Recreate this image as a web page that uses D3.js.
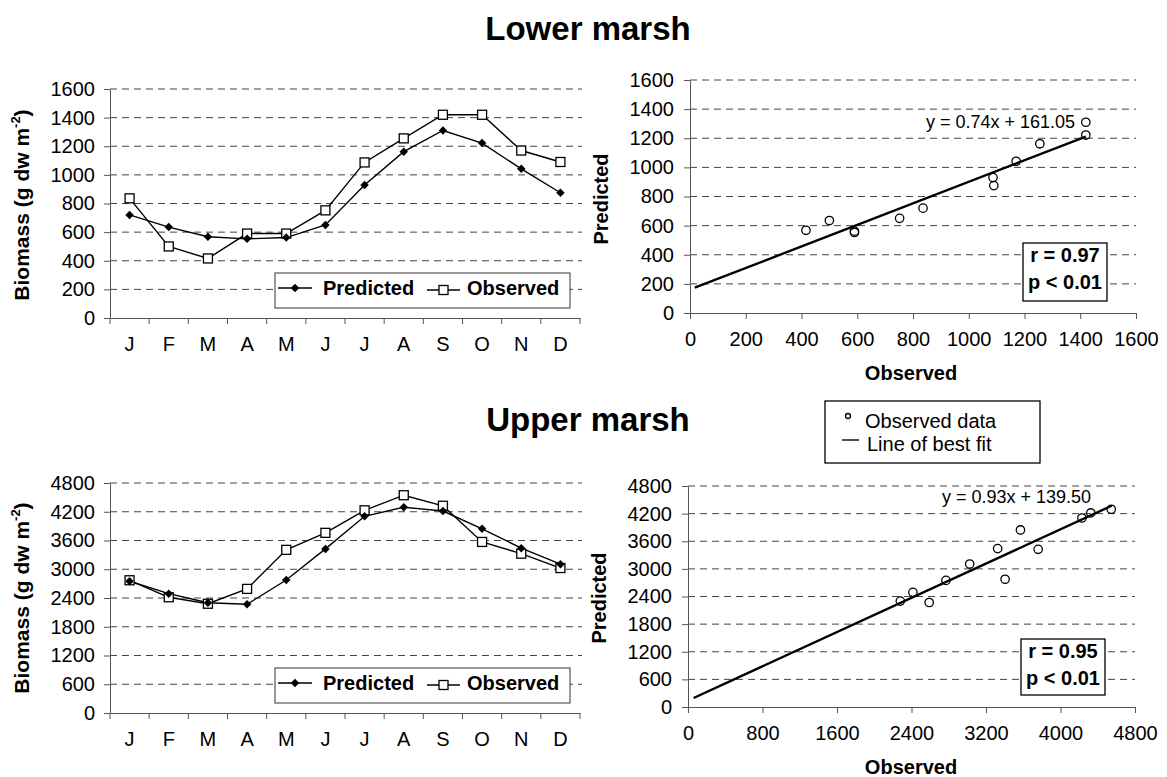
<!DOCTYPE html>
<html>
<head>
<meta charset="utf-8">
<script src="https://cdn.jsdelivr.net/npm/d3@7"></script>
<style>
  body { margin: 0; background: #fff; }
  text { font-family: "Liberation Sans", Arial, sans-serif; fill: #000; }
  .grid line { stroke: #444; stroke-width: 1; stroke-dasharray: 7,5; }
  .axis path, .axis line { stroke: #555; stroke-width: 1; }
</style>
</head>
<body>
<div id="chart-area"></div>
<script>
// month labels (J F M ...)
var months = ["J","F","M","A","M","J","J","A","S","O","N","D"];

// Lower marsh, g dw m-2
var lowerPred = [720, 635, 568, 553, 562, 650, 930, 1162, 1310, 1222, 1042, 875];
var lowerObs  = [836, 500, 416, 590, 590, 752, 1087, 1255, 1420, 1420, 1170, 1090];
var lowerTicks = [0, 200, 400, 600, 800, 1000, 1200, 1400, 1600];
var lowerFit = [0.74, 161.05];        // slope, intercept
var lowerFitRange = [17, 1420];
var lowerStats = ["r = 0.97", "p < 0.01"];

// Upper marsh
var upperPred = [2750, 2490, 2300, 2270, 2775, 3425, 4105, 4295, 4215, 3845, 3440, 3105];
var upperObs  = [2770, 2415, 2280, 2590, 3405, 3760, 4230, 4545, 4325, 3570, 3325, 3025];
var upperTicks = [0, 600, 1200, 1800, 2400, 3000, 3600, 4200, 4800];
var upperXTicks = [0, 800, 1600, 2400, 3200, 4000, 4800];
var upperFit = [0.93, 139.50];
var upperFitRange = [60, 4550];
var upperStats = ["r = 0.95", "p < 0.01"];

var svg = d3.select("#chart-area").append("svg")
  .attr("width", 1167)
  .attr("height", 777);

var fmt = d3.format("d");

// titles
svg.append("text").attr("x", 588).attr("y", 40)
  .attr("text-anchor", "middle").attr("font-size", "33px").attr("font-weight", "bold")
  .text("Lower marsh");
svg.append("text").attr("x", 588).attr("y", 431)
  .attr("text-anchor", "middle").attr("font-size", "33px").attr("font-weight", "bold")
  .text("Upper marsh");

function yGrid(g, y, ticks, x0, x1) {
  g.append("g").attr("class", "grid")
    .selectAll("line").data(ticks.slice(1)).enter()
    .append("line")
    .attr("x1", x0).attr("x2", x1)
    .attr("y1", function(d){ return y(d); })
    .attr("y2", function(d){ return y(d); });
}

function lineChart(p, pred, obs, ticks) {
  var x = d3.scaleBand().domain(d3.range(months.length)).range([p.x0, p.x1]);
  var y = d3.scaleLinear().domain([0, ticks[ticks.length - 1]]).range([p.y1, p.y0]);
  var g = svg.append("g");

  yGrid(g, y, ticks, p.x0, p.x1 + 2);

  g.append("g").attr("class", "axis")
    .attr("transform", "translate(" + p.x0 + ",0)")
    .call(d3.axisLeft(y).tickValues(ticks).tickFormat(fmt).tickSize(6).tickPadding(9).tickSizeOuter(0))
    .selectAll("text").attr("font-size", "20px").style("font-family", "Liberation Sans, Arial");

  var xa = g.append("g").attr("class", "axis")
    .attr("transform", "translate(0," + p.y1 + ")")
    .call(d3.axisBottom(x).tickSize(0).tickPadding(19).tickFormat(function(i){ return months[i]; }));
  xa.selectAll("text").attr("font-size", "20px").style("font-family", "Liberation Sans, Arial");
  // boundary ticks between months
  xa.selectAll(".bnd").data(d3.range(months.length + 1)).enter()
    .append("line").attr("class", "bnd")
    .attr("x1", function(i){ return i < months.length ? x(i) : p.x1; })
    .attr("x2", function(i){ return i < months.length ? x(i) : p.x1; })
    .attr("y1", 0).attr("y2", 6);

  var cx = function(d, i){ return x(i) + x.bandwidth() / 2; };
  var line = d3.line().x(cx).y(function(d){ return y(d); });

  g.append("path").datum(obs).attr("d", line)
    .attr("fill", "none").attr("stroke", "#000").attr("stroke-width", 1.4);
  g.append("path").datum(pred).attr("d", line)
    .attr("fill", "none").attr("stroke", "#000").attr("stroke-width", 1.4);

  g.selectAll(".sq").data(obs).enter().append("rect").attr("class", "sq")
    .attr("x", function(d, i){ return cx(d, i) - 4.5; })
    .attr("y", function(d){ return y(d) - 4.5; })
    .attr("width", 9).attr("height", 9)
    .attr("fill", "#fff").attr("stroke", "#000").attr("stroke-width", 1.3);
  g.selectAll(".dm").data(pred).enter().append("path").attr("class", "dm")
    .attr("d", d3.symbol().type(d3.symbolSquare).size(36))
    .attr("transform", function(d, i){ return "translate(" + cx(d, i) + "," + y(d) + ") rotate(45)"; })
    .attr("fill", "#000");

  // legend
  var lg = g.append("g").attr("transform", "translate(275," + p.ly + ")");
  lg.append("rect").attr("width", 295).attr("height", 35)
    .attr("fill", "#fff").attr("stroke", "#555").attr("stroke-width", 1.2);
  lg.append("line").attr("x1", 3).attr("x2", 37).attr("y1", 15).attr("y2", 15)
    .attr("stroke", "#000").attr("stroke-width", 1.4);
  lg.append("path").attr("d", d3.symbol().type(d3.symbolSquare).size(36))
    .attr("transform", "translate(20,15) rotate(45)");
  lg.append("text").attr("x", 48).attr("y", 22).attr("font-size", "20px")
    .attr("font-weight", "bold").text("Predicted");
  lg.append("line").attr("x1", 152).attr("x2", 185).attr("y1", 17).attr("y2", 17)
    .attr("stroke", "#000").attr("stroke-width", 1.4);
  lg.append("rect").attr("x", 164).attr("y", 12.5).attr("width", 9).attr("height", 9)
    .attr("fill", "#fff").attr("stroke", "#000").attr("stroke-width", 1.3);
  lg.append("text").attr("x", 192).attr("y", 22).attr("font-size", "20px")
    .attr("font-weight", "bold").text("Observed");

  // y label with superscript
  var yl = g.append("text")
    .attr("transform", "translate(29," + p.lc + ") rotate(-90)")
    .attr("text-anchor", "middle").attr("font-size", "21px").attr("font-weight", "bold");
  yl.append("tspan").text("Biomass (g dw m");
  yl.append("tspan").attr("font-size", "13px").attr("dy", -9).text("-2");
  yl.append("tspan").attr("dy", 9).text(")");
}

function scatter(p, obs, pred, yTicks, xTicks, fit, fitRange, stats) {
  var max = yTicks[yTicks.length - 1];
  var x = d3.scaleLinear().domain([0, max]).range([p.x0, p.x1]);
  var y = d3.scaleLinear().domain([0, max]).range([p.y1, p.y0]);
  var g = svg.append("g");

  yGrid(g, y, yTicks, p.x0, p.x1);

  g.append("g").attr("class", "axis")
    .attr("transform", "translate(" + p.x0 + ",0)")
    .call(d3.axisLeft(y).tickValues(yTicks).tickFormat(fmt).tickSize(6).tickPadding(10).tickSizeOuter(0))
    .selectAll("text").attr("font-size", "20px").style("font-family", "Liberation Sans, Arial");
  g.append("g").attr("class", "axis")
    .attr("transform", "translate(0," + p.y1 + ")")
    .call(d3.axisBottom(x).tickValues(xTicks).tickFormat(fmt).tickSize(6).tickPadding(13).tickSizeOuter(0))
    .selectAll("text").attr("font-size", "20px").style("font-family", "Liberation Sans, Arial");

  g.append("line")
    .attr("x1", x(fitRange[0])).attr("y1", y(fit[0] * fitRange[0] + fit[1]))
    .attr("x2", x(fitRange[1])).attr("y2", y(fit[0] * fitRange[1] + fit[1]))
    .attr("stroke", "#000").attr("stroke-width", 2.4);

  g.selectAll("circle").data(obs).enter().append("circle")
    .attr("cx", function(d){ return x(d); })
    .attr("cy", function(d, i){ return y(pred[i]); })
    .attr("r", 4.2)
    .attr("fill", "none").attr("stroke", "#000").attr("stroke-width", 1.3);

  g.append("text").attr("x", p.ex).attr("y", p.ey).attr("font-size", "18px")
    .text("y = " + fit[0].toFixed(2) + "x + " + fit[1].toFixed(2));

  var sb = g.append("g").attr("transform", "translate(" + p.bx + "," + p.by + ")");
  sb.append("rect").attr("width", 84).attr("height", p.bh)
    .attr("fill", "#fff").attr("stroke", "#000").attr("stroke-width", 1.3);
  sb.selectAll("text").data(stats).enter().append("text")
    .attr("x", 42).attr("y", function(d, i){ return 19 + i * 27; })
    .attr("text-anchor", "middle").attr("font-size", "20px").attr("font-weight", "bold")
    .text(function(d){ return d; });

  g.append("text")
    .attr("transform", "translate(" + p.plx + "," + p.lc + ") rotate(-90)")
    .attr("text-anchor", "middle").attr("font-size", "20px").attr("font-weight", "bold")
    .text("Predicted");
  g.append("text").attr("x", 911).attr("y", p.oy)
    .attr("text-anchor", "middle").attr("font-size", "20px").attr("font-weight", "bold")
    .text("Observed");
}

lineChart({x0:110, x1:580, y0:89, y1:318, ly:273, lc:205}, lowerPred, lowerObs, lowerTicks);
lineChart({x0:110, x1:580, y0:483, y1:713, ly:668, lc:598}, upperPred, upperObs, upperTicks);

scatter({x0:690, x1:1136, y0:80, y1:313, ex:926, ey:128, bx:1023, by:243, bh:58, plx:608, lc:199, oy:380},
  lowerObs, lowerPred, lowerTicks, lowerTicks, lowerFit, lowerFitRange, lowerStats);
scatter({x0:688, x1:1135, y0:486, y1:707, ex:942, ey:503, bx:1021, by:639, bh:56, plx:606, lc:598, oy:774},
  upperObs, upperPred, upperTicks, upperXTicks, upperFit, upperFitRange, upperStats);

// legend for the scatter plots
var leg = svg.append("g").attr("transform", "translate(825,401)");
leg.append("rect").attr("width", 215).attr("height", 62)
  .attr("fill", "#fff").attr("stroke", "#000").attr("stroke-width", 1.3);
leg.append("circle").attr("cx", 23).attr("cy", 15).attr("r", 2.5)
  .attr("fill", "none").attr("stroke", "#000").attr("stroke-width", 1.3);
leg.append("text").attr("x", 40).attr("y", 27).attr("font-size", "20px").text("Observed data");
leg.append("line").attr("x1", 17).attr("x2", 34).attr("y1", 39).attr("y2", 39)
  .attr("stroke", "#000").attr("stroke-width", 1.4);
leg.append("text").attr("x", 42).attr("y", 50).attr("font-size", "20px").text("Line of best fit");
</script>
</body>
</html>
